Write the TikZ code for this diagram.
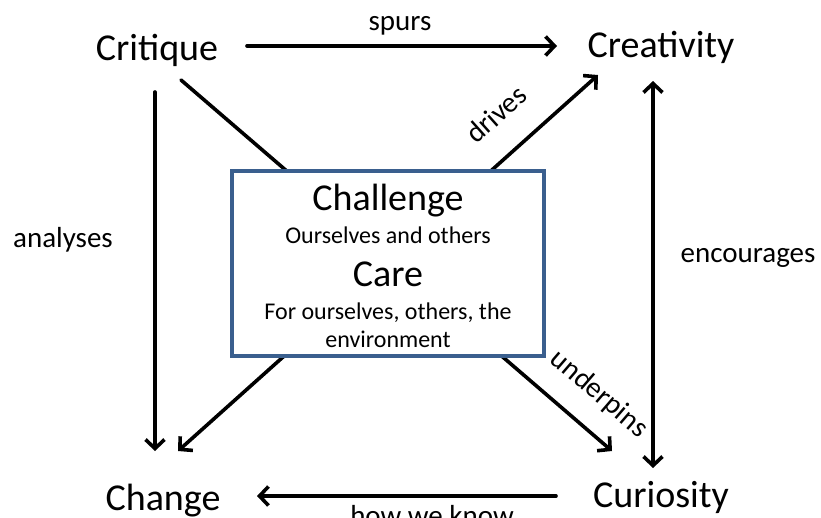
\documentclass[tikz,border=0pt]{standalone}
\usepackage{fontspec}
\setmainfont{Carlito}
\usetikzlibrary{arrows.meta,calc}
\definecolor{boxblue}{HTML}{3A5F8E}
\tikzset{
  word/.style={anchor=base, inner sep=0pt, font=\fontsize{38}{40}\selectfont},
  lbl/.style={inner sep=0pt, font=\fontsize{29}{31}\selectfont},
  arr/.style={line width=3.6pt, line cap=round, line join=round, -{Straight Barb[length=9pt,width=19pt]}},
  darr/.style={line width=3.6pt, line cap=round, line join=round, {Straight Barb[length=9pt,width=19pt]}-{Straight Barb[length=9pt,width=19pt]}},
  centerbox/.style={draw=boxblue, line width=4pt, fill=white, minimum width=312pt, minimum height=185pt, inner sep=0pt},
  big/.style={anchor=base, inner sep=0pt, font=\fontsize{38}{40}\selectfont},
  small/.style={anchor=base, inner sep=0pt, font=\fontsize{24}{26}\selectfont}
}
\begin{document}
\begin{tikzpicture}[x=1pt,y=-1pt]
\useasboundingbox (0,0) rectangle (821,517);
% main nodes
\node[word] (crit) at (157,60) {Critique};
\node[word] (crea) at (661,57) {Creativity};
\node[word] (chg) at (163,510) {Change};
\node[word] (curi) at (661,507) {Curiosity};
% connectors behind the box
\draw[arr] ($(crit.base)+(24,20)$) -- ($(curi.base)+(-49,-56)$);
\draw[darr] ($(chg.base)+(15,-59)$) -- ($(crea.base)+(-63,18)$);
% central box
\node[centerbox] (box) at (388,263.5) {};
\node[big] (chal) at (388,210) {Challenge};
\node[small] (ours) at (388,243) {Ourselves and others};
\node[big] (care) at (388,286) {Care};
\node[small] (for) at (388,319) {For ourselves, others, the};
\node[small] (env) at (388,347) {environment};
% other connectors
\draw[arr] ($(crit.base)+(90,-14)$) -- ($(crea.base)+(-104,-11)$);
\draw[arr] ($(crit.base)+(-2,32)$) -- ($(chg.base)+(-8,-59)$);
\draw[darr] ($(crea.base)+(-8,24)$) -- ($(curi.base)+(-8,-39)$);
\draw[arr] ($(curi.base)+(-105,-11)$) -- ($(chg.base)+(94,-14)$);
% labels
\node[lbl] (lspurs) at (400,26) {spurs};
\node[lbl] (lanal) at (63,240) {analyses};
\node[lbl] (lenc) at (748,258) {encourages};
\node[lbl, rotate=41.8] (ldrives) at (496,114) {drives};
\node[lbl, rotate=-40.7] (lunder) at (599,394) {underpins};
\node[lbl, anchor=base] (lhow) at (432,525) {how we know};
\end{tikzpicture}
\end{document}
